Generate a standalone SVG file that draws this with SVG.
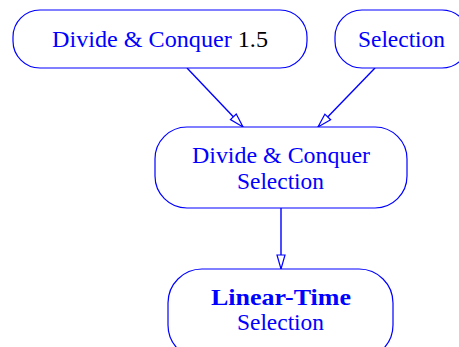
<svg xmlns="http://www.w3.org/2000/svg" width="459" height="347" viewBox="0 0 459 347">
  <style>
    .box { fill: #ffffff; stroke: #0000ff; stroke-width: 1.2; }
    .lbl { font-family: "Liberation Serif", "DejaVu Serif", serif; font-size: 23px; fill: #0000ff; text-anchor: middle; }
    .num { fill: #000000; }
    .bold { font-weight: bold; }
    .edge { fill: none; stroke: #0000ff; stroke-width: 1.4; }
  </style>
  <defs>
    <marker id="tri" markerUnits="userSpaceOnUse" markerWidth="18" markerHeight="12" refX="15" refY="5" orient="auto" viewBox="0 0 18 10">
      <path d="M1,1 L15,5 L1,9 Z" fill="#ffffff" stroke="#0000ff" stroke-width="1.2"/>
    </marker>
  </defs>

  <g id="connectors">
    <line class="edge" x1="187" y1="68" x2="243" y2="127" marker-end="url(#tri)"/>
    <line class="edge" x1="375" y1="68" x2="318" y2="127" marker-end="url(#tri)"/>
    <line class="edge" x1="281" y1="208" x2="281" y2="269" marker-end="url(#tri)"/>
  </g>

  <g id="dc15">
    <rect class="box" x="13" y="10" width="294" height="58" rx="27" ry="27"/>
    <text class="lbl" x="160" y="47" textLength="216" lengthAdjust="spacingAndGlyphs">Divide &amp; Conquer <tspan class="num">1.5</tspan></text>
  </g>

  <g id="selection">
    <rect class="box" x="335" y="10" width="134" height="58" rx="27" ry="27"/>
    <text class="lbl" x="401.5" y="47" textLength="87" lengthAdjust="spacingAndGlyphs">Selection</text>
  </g>

  <g id="dcselection">
    <rect class="box" x="155" y="127" width="252" height="81" rx="32" ry="32"/>
    <text class="lbl" x="281" y="163" textLength="178" lengthAdjust="spacingAndGlyphs">Divide &amp; Conquer</text>
    <text class="lbl" x="280.5" y="188.5" textLength="87" lengthAdjust="spacingAndGlyphs">Selection</text>
  </g>

  <g id="lineartime">
    <rect class="box" x="168" y="269" width="225" height="90" rx="34" ry="34"/>
    <text class="lbl bold" x="281" y="305" textLength="140" lengthAdjust="spacingAndGlyphs">Linear-Time</text>
    <text class="lbl" x="280.5" y="330" textLength="87" lengthAdjust="spacingAndGlyphs">Selection</text>
  </g>
</svg>
